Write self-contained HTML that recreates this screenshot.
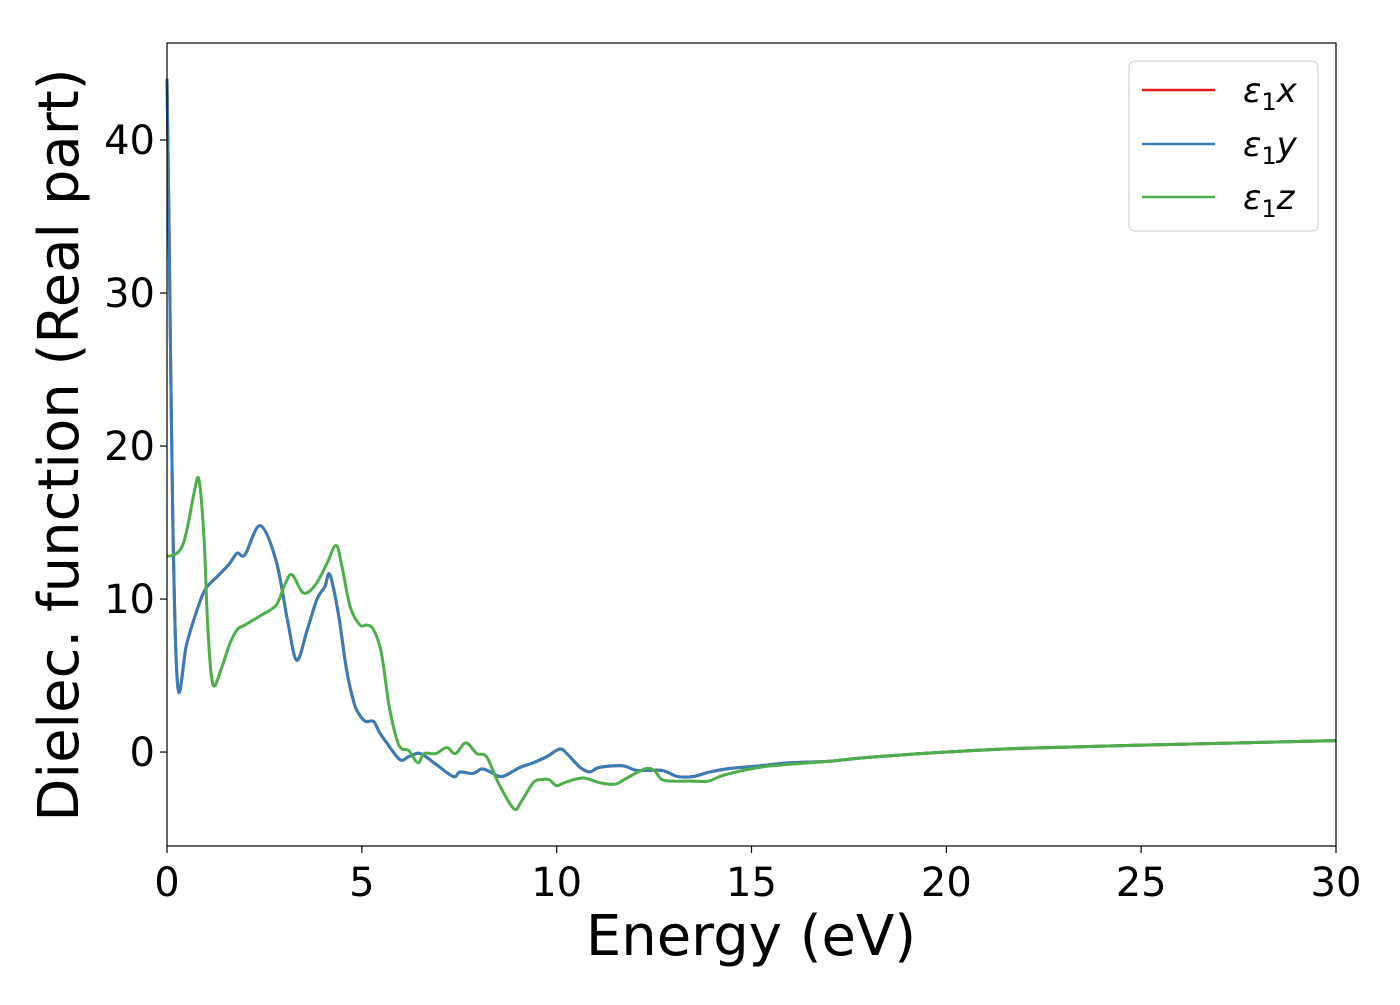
<!DOCTYPE html>
<html><head><meta charset="utf-8"><style>
html,body{margin:0;padding:0;background:#fff;}
svg text{font-family:"DejaVu Sans","Liberation Sans",sans-serif;}
</style></head><body>
<svg id="chart" width="1400" height="1000" viewBox="0 0 1400 1000">
<rect x="0" y="0" width="1400" height="1000" fill="#fff"/>
<g id="plot"></g>
<rect x="167" y="43" width="1169" height="803" fill="none" stroke="#000" stroke-width="1.2"/>
<g id="xticks"></g>
<g id="yticks"></g>
<text x="751" y="955" font-size="56" text-anchor="middle">Energy (eV)</text>
<text transform="translate(78,445) rotate(-90)" font-size="56" text-anchor="middle">Dielec. function (Real part)</text>
<g>
<rect x="1129" y="61" width="189" height="170" rx="6" fill="#fff" fill-opacity="0.8" stroke="#ccc"/>
<line x1="1142" y1="90" x2="1215" y2="90" stroke="#e41a1c" stroke-width="2.5"/>
<text x="1243" y="102" font-size="34" font-style="italic">ε<tspan font-style="normal" font-size="24" dy="8">1</tspan><tspan dy="-8">x</tspan></text>
<line x1="1142" y1="144" x2="1215" y2="144" stroke="#377eb8" stroke-width="2.5"/>
<text x="1243" y="156" font-size="34" font-style="italic">ε<tspan font-style="normal" font-size="24" dy="8">1</tspan><tspan dy="-8">y</tspan></text>
<line x1="1142" y1="197" x2="1215" y2="197" stroke="#4daf4a" stroke-width="2.5"/>
<text x="1243" y="209" font-size="34" font-style="italic">ε<tspan font-style="normal" font-size="24" dy="8">1</tspan><tspan dy="-8">z</tspan></text>
</g>
</svg>
<script>
const xTicks=[0,5,10,15,20,25,30];
const yTicks=[0,10,20,30,40];
const energyXY=[0,0.05,0.15,0.28,0.5,0.8,1.0,1.3,1.6,1.8,2.0,2.39,2.8,3.1,3.33,3.6,3.85,4.05,4.18,4.4,4.6,4.8,4.95,5.1,5.3,5.45,5.64,5.98,6.2,6.5,6.9,7.35,7.52,7.85,8.08,8.3,8.6,9.06,9.4,9.75,10.08,10.3,10.6,10.85,11.1,11.7,12.06,12.7,13.1,13.5,13.93,14.37,15.2,16,17,18,20,22,25,30];
const epsX=[44,35,15,4.2,7,9.5,10.7,11.5,12.3,13,12.9,14.8,12.5,8.5,6.0,8,10,10.8,11.6,9,5.5,3.2,2.4,2.0,2.0,1.3,0.6,-0.5,-0.3,-0.1,-0.8,-1.6,-1.3,-1.4,-1.1,-1.3,-1.6,-1.0,-0.7,-0.3,0.2,-0.2,-1.0,-1.3,-1.0,-0.9,-1.2,-1.2,-1.6,-1.6,-1.3,-1.1,-0.9,-0.7,-0.6,-0.35,0,0.25,0.45,0.75];
const epsY=epsX.slice();
const energyZ=[0,0.2,0.4,0.55,0.7,0.82,0.95,1.05,1.18,1.4,1.6,1.8,2.0,2.39,2.8,3.0,3.2,3.5,3.8,4.1,4.34,4.5,4.7,4.95,5.13,5.3,5.5,5.7,5.9,6.03,6.2,6.44,6.6,6.9,7.18,7.4,7.67,7.95,8.2,8.5,8.9,9.1,9.4,9.6,9.8,10.0,10.2,10.67,11.1,11.5,11.8,12.27,12.5,12.7,13.0,13.5,13.9,14.3,15.2,16,17,18,20,22,25,30];
const epsZ=[12.8,12.9,13.5,15,17,17.8,14,8,4.4,5.5,7.0,8.0,8.3,8.9,9.6,10.8,11.6,10.4,10.9,12.3,13.5,12,9.5,8.3,8.3,8.0,6.5,3.0,0.8,0.2,0.1,-0.7,-0.1,-0.1,0.3,-0.1,0.6,-0.1,-0.3,-2,-3.7,-3.2,-2.0,-1.8,-1.8,-2.2,-2.0,-1.7,-2.0,-2.1,-1.7,-1.1,-1.2,-1.8,-1.9,-1.9,-1.9,-1.5,-1.0,-0.8,-0.6,-0.35,0,0.25,0.45,0.75];
const NS='http://www.w3.org/2000/svg';
const X0=167,X1=1336,Y0=846,Y1=43,xMin=0,xMax=30,yMin=-6.14,yMax=46.34;
function sx(v){return X0+(v-xMin)/(xMax-xMin)*(X1-X0);}
function sy(v){return Y0-(v-yMin)/(yMax-yMin)*(Y0-Y1);}
function pathFor(xs,ys){
  const p=xs.map((x,i)=>[sx(x),sy(ys[i])]);
  let d='M'+p[0][0].toFixed(2)+','+p[0][1].toFixed(2);
  for(let i=0;i<p.length-1;i++){
    const a=p[Math.max(0,i-1)],b=p[i],c=p[i+1],e=p[Math.min(p.length-1,i+2)];
    const c1=[b[0]+(c[0]-a[0])/6,b[1]+(c[1]-a[1])/6];
    const c2=[c[0]-(e[0]-b[0])/6,c[1]-(e[1]-b[1])/6];
    d+='C'+c1[0].toFixed(2)+','+c1[1].toFixed(2)+' '+c2[0].toFixed(2)+','+c2[1].toFixed(2)+' '+c[0].toFixed(2)+','+c[1].toFixed(2);
  }
  return d;
}
const plot=document.getElementById('plot');
function addLine(xs,ys,color,name){
  const el=document.createElementNS(NS,'path');
  el.setAttribute('d',pathFor(xs,ys));
  el.setAttribute('fill','none');
  el.setAttribute('stroke',color);
  el.setAttribute('stroke-width','3');
  
  
  plot.appendChild(el);
}
addLine(energyXY,epsX,'#e41a1c','series-eps1x');
addLine(energyXY,epsY,'#377eb8','series-eps1y');
addLine(energyZ,epsZ,'#4daf4a','series-eps1z');
const xg=document.getElementById('xticks');
xTicks.forEach(t=>{
  const l=document.createElementNS(NS,'line');
  l.setAttribute('x1',sx(t));l.setAttribute('x2',sx(t));l.setAttribute('y1',Y0);l.setAttribute('y2',Y0+7);
  l.setAttribute('stroke','#000');l.setAttribute('stroke-width','1.2');
  
  
  xg.appendChild(l);
  const tx=document.createElementNS(NS,'text');
  tx.setAttribute('x',sx(t));tx.setAttribute('y',Y0+50);tx.setAttribute('font-size','40');tx.setAttribute('text-anchor','middle');
  tx.textContent=t;
  
  
  xg.appendChild(tx);
});
const yg=document.getElementById('yticks');
yTicks.forEach(t=>{
  const l=document.createElementNS(NS,'line');
  l.setAttribute('x1',X0-7);l.setAttribute('x2',X0);l.setAttribute('y1',sy(t));l.setAttribute('y2',sy(t));
  l.setAttribute('stroke','#000');l.setAttribute('stroke-width','1.2');
  
  
  yg.appendChild(l);
  const tx=document.createElementNS(NS,'text');
  tx.setAttribute('x',X0-12);tx.setAttribute('y',sy(t)+14);tx.setAttribute('font-size','40');tx.setAttribute('text-anchor','end');
  tx.textContent=t;
  
  
  yg.appendChild(tx);
});
</script>
</body></html>
